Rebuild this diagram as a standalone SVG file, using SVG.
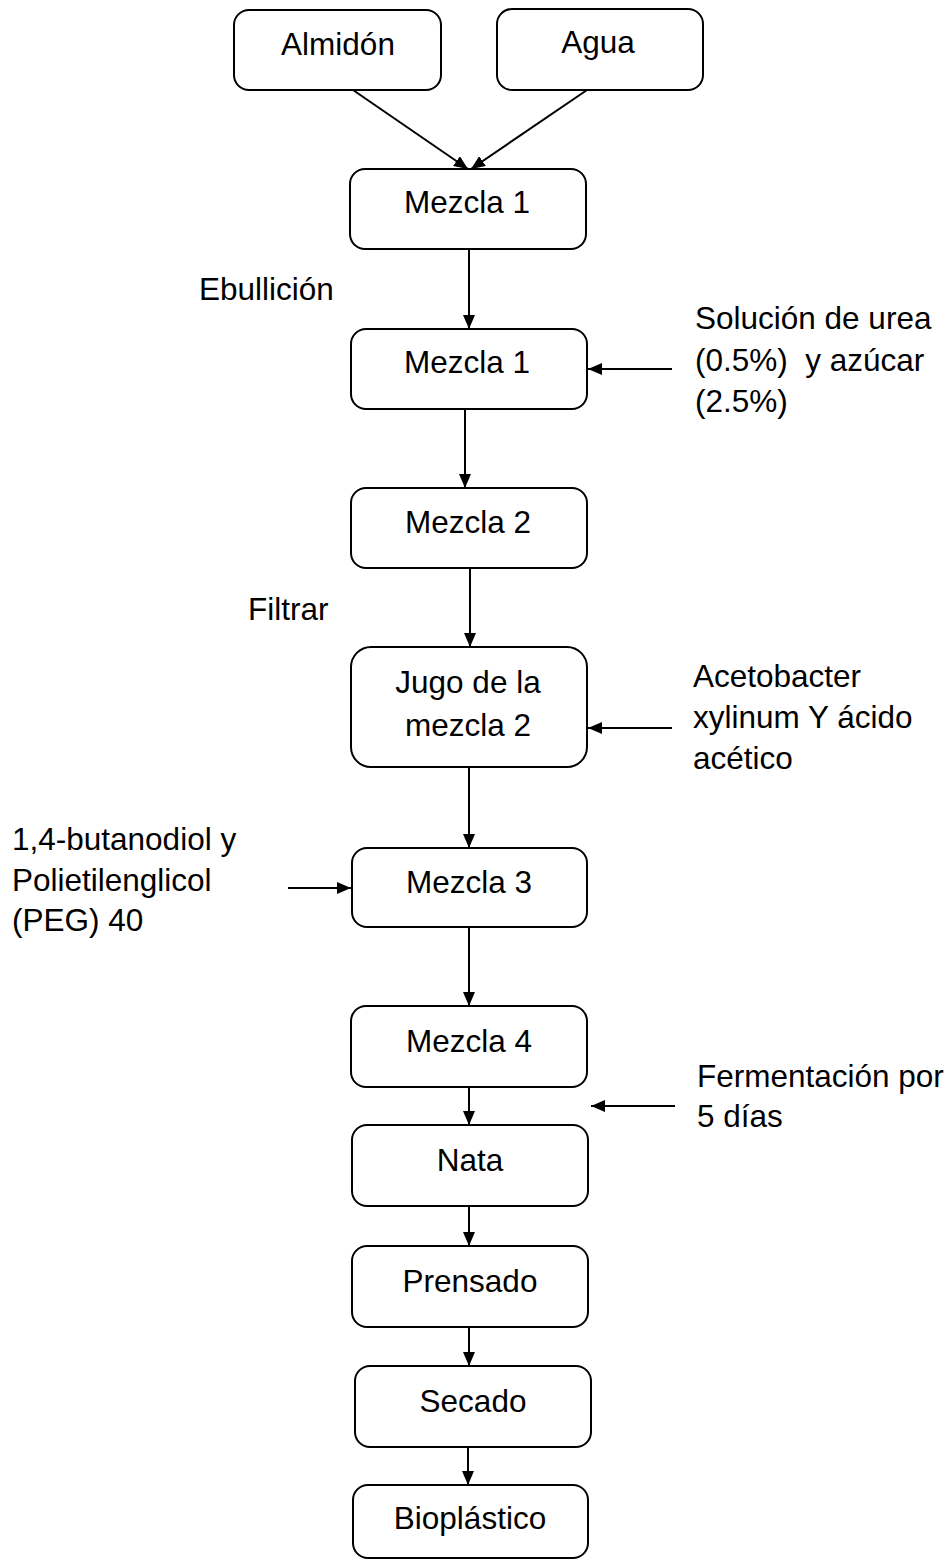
<svg xmlns="http://www.w3.org/2000/svg" width="952" height="1562" viewBox="0 0 952 1562">
<style>
.box{fill:#fff;stroke:#000;stroke-width:2}
.t{font-family:"Liberation Sans",Arial,sans-serif;font-size:31.5px;fill:#000}
.c{text-anchor:middle}
.ln{stroke:#000;stroke-width:2;fill:none;marker-end:url(#ah)}
</style>
<defs>
<marker id="ah" viewBox="0 0 14 12" refX="14" refY="6" markerWidth="14" markerHeight="12" markerUnits="userSpaceOnUse" orient="auto"><path d="M0,0 L14,6 L0,12 z" fill="#000"/></marker>
</defs>
<rect width="952" height="1562" fill="#fff"/>
<g id="connectors">
<line class="ln" x1="353" y1="90" x2="468" y2="169"/>
<line class="ln" x1="587" y1="90" x2="471" y2="169"/>
<line class="ln" x1="469" y1="249" x2="469" y2="329"/>
<line class="ln" x1="465" y1="409" x2="465" y2="488"/>
<line class="ln" x1="470" y1="568" x2="470" y2="647"/>
<line class="ln" x1="469" y1="767" x2="469" y2="848"/>
<line class="ln" x1="469" y1="927" x2="469" y2="1006"/>
<line class="ln" x1="469" y1="1087" x2="469" y2="1125"/>
<line class="ln" x1="469" y1="1206" x2="469" y2="1246"/>
<line class="ln" x1="469" y1="1327" x2="469" y2="1366"/>
<line class="ln" x1="468" y1="1447" x2="468" y2="1485"/>
<line class="ln" x1="672" y1="369" x2="588" y2="369"/>
<line class="ln" x1="672" y1="728" x2="588" y2="728"/>
<line class="ln" x1="288" y1="888" x2="351" y2="888"/>
<line class="ln" x1="675" y1="1106" x2="591" y2="1106"/>
</g>
<g id="almidon"><rect class="box" x="234" y="10" width="207" height="80" rx="15"/><text class="t c" x="338" y="55">Almidón</text></g>
<g id="agua"><rect class="box" x="497" y="9" width="206" height="81" rx="15"/><text class="t c" x="598" y="53">Agua</text></g>
<g id="mezcla1a"><rect class="box" x="350" y="169" width="236" height="80" rx="15"/><text class="t c" x="467" y="213">Mezcla 1</text></g>
<g id="mezcla1b"><rect class="box" x="351" y="329" width="236" height="80" rx="15"/><text class="t c" x="467" y="373">Mezcla 1</text></g>
<g id="mezcla2"><rect class="box" x="351" y="488" width="236" height="80" rx="15"/><text class="t c" x="468" y="533">Mezcla 2</text></g>
<g id="jugo"><rect class="box" x="351" y="647" width="236" height="120" rx="20"/><text class="t c" x="468" y="693">Jugo de la</text><text class="t c" x="468" y="736">mezcla 2</text></g>
<g id="mezcla3"><rect class="box" x="352" y="848" width="235" height="79" rx="15"/><text class="t c" x="469" y="893">Mezcla 3</text></g>
<g id="mezcla4"><rect class="box" x="351" y="1006" width="236" height="81" rx="15"/><text class="t c" x="469" y="1052">Mezcla 4</text></g>
<g id="nata"><rect class="box" x="352" y="1125" width="236" height="81" rx="15"/><text class="t c" x="470" y="1171">Nata</text></g>
<g id="prensado"><rect class="box" x="352" y="1246" width="236" height="81" rx="15"/><text class="t c" x="470" y="1292">Prensado</text></g>
<g id="secado"><rect class="box" x="355" y="1366" width="236" height="81" rx="15"/><text class="t c" x="473" y="1412">Secado</text></g>
<g id="bioplastico"><rect class="box" x="353" y="1485" width="235" height="73" rx="15"/><text class="t c" x="470" y="1529">Bioplástico</text></g>
<g id="labels">
<text class="t" x="199" y="300">Ebullición</text>
<text class="t" x="248" y="620">Filtrar</text>
<text class="t" x="695" y="329">Solución de urea</text>
<text class="t" x="695" y="371" xml:space="preserve">(0.5%)  y azúcar</text>
<text class="t" x="695" y="412">(2.5%)</text>
<text class="t" x="693" y="687">Acetobacter</text>
<text class="t" x="693" y="728">xylinum Y ácido</text>
<text class="t" x="693" y="769">acético</text>
<text class="t" x="12" y="850">1,4-butanodiol y</text>
<text class="t" x="12" y="891">Polietilenglicol</text>
<text class="t" x="12" y="931">(PEG) 40</text>
<text class="t" x="697" y="1087">Fermentación por</text>
<text class="t" x="697" y="1127">5 días</text>
</g>
</svg>
